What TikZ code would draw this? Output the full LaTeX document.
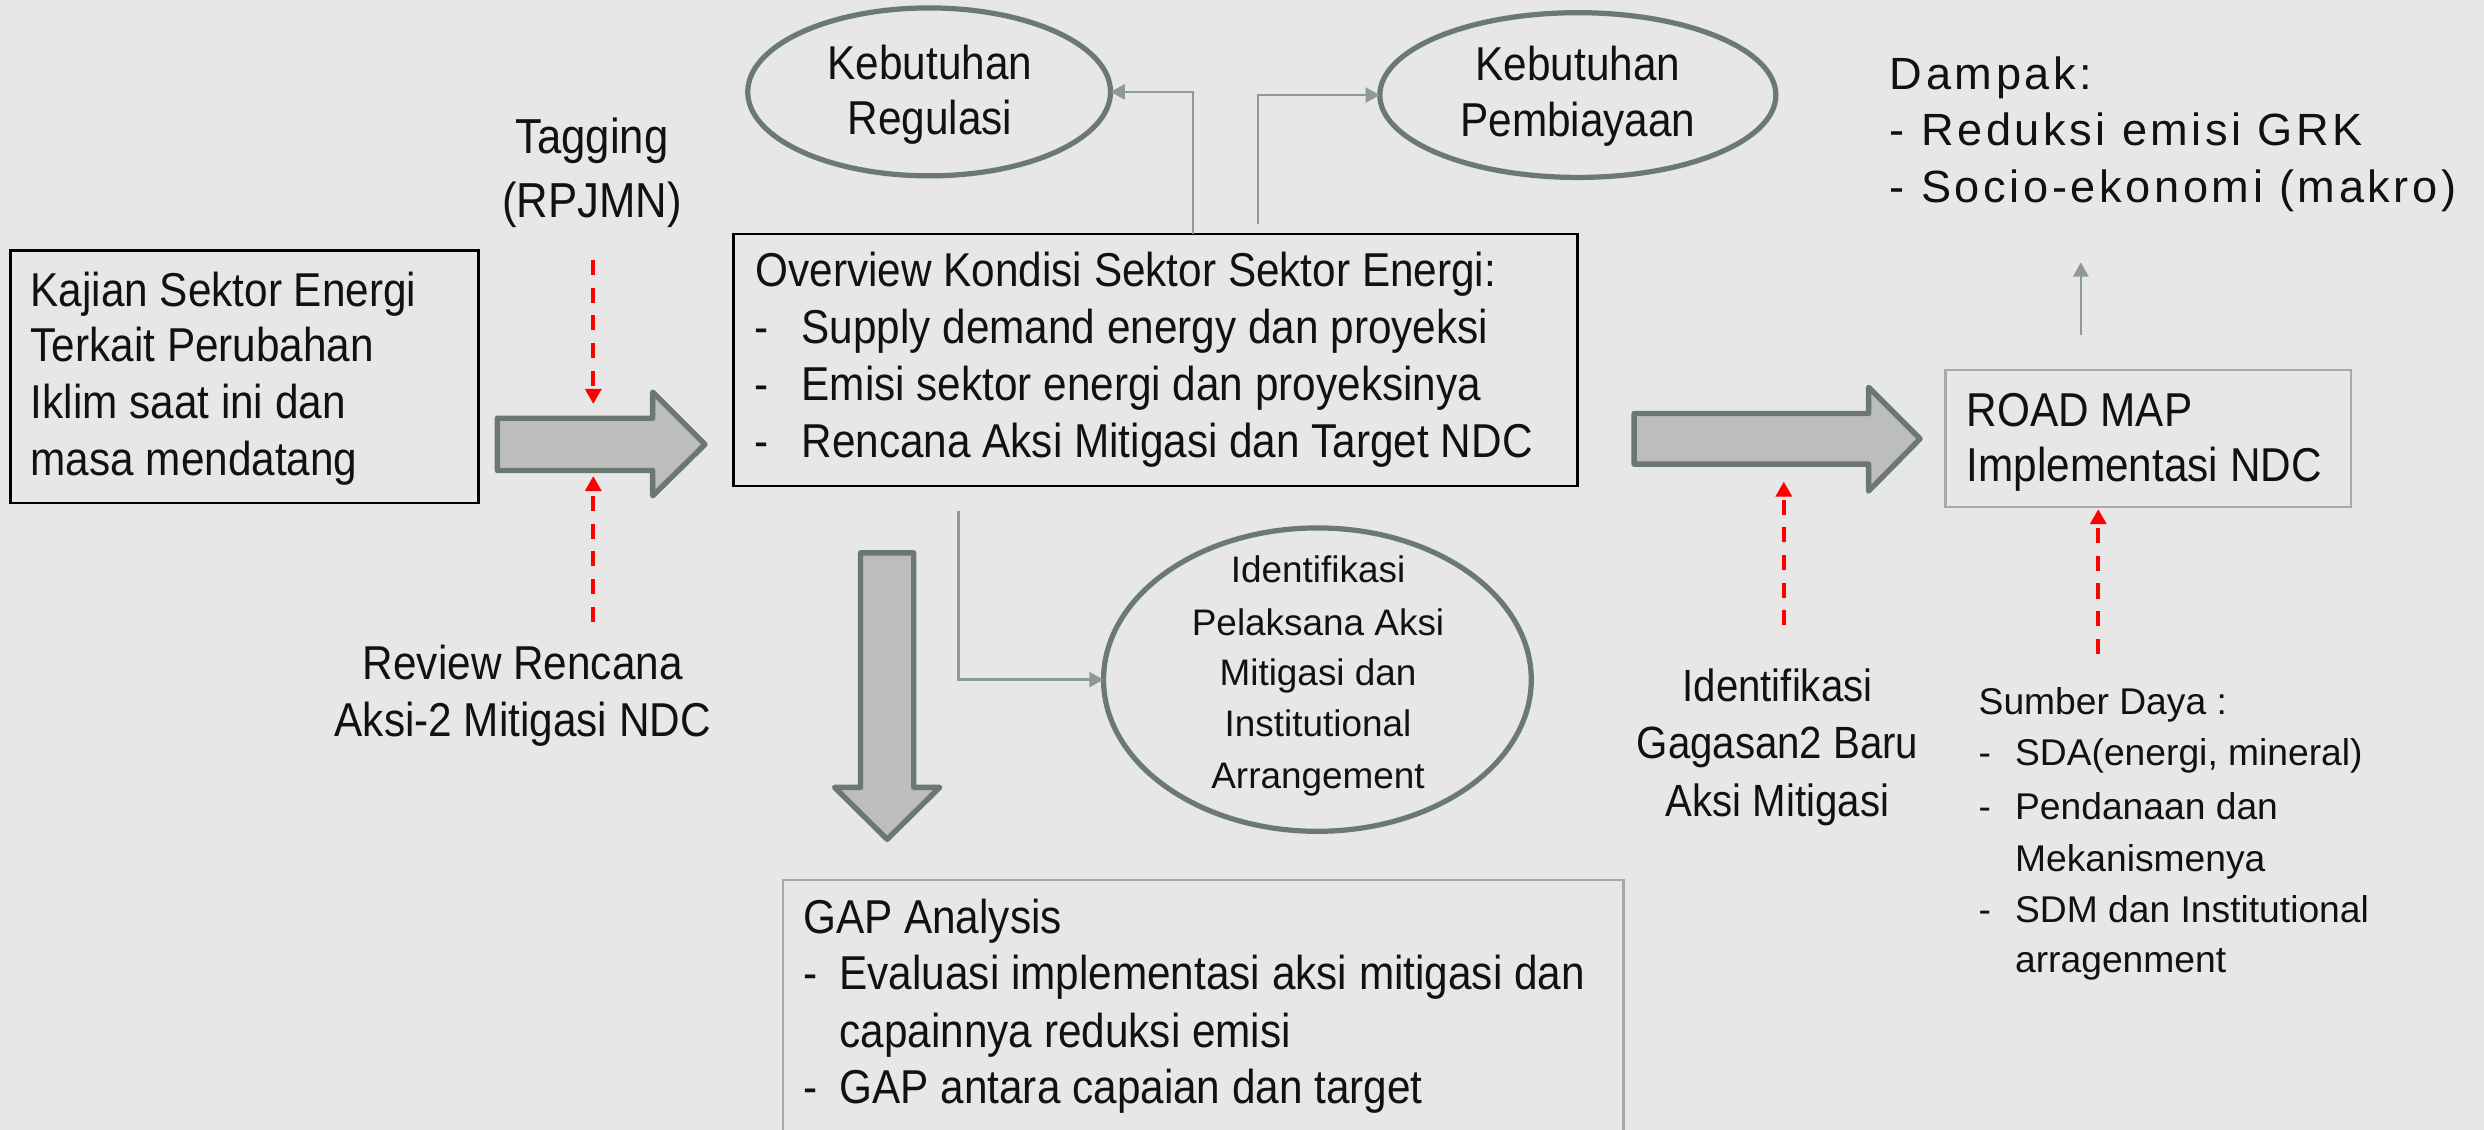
\documentclass[tikz,border=0pt]{standalone}
\usepackage{fontspec}
\setmainfont{Liberation Sans}
\newfontfamily\cn[FakeStretch=0.89]{Liberation Sans}
\newfontfamily\lsp[LetterSpace=8]{Liberation Sans}
\usetikzlibrary{arrows.meta,calc,shapes.geometric}
\definecolor{bgc}{HTML}{E7E7E7}
\definecolor{arrfill}{HTML}{BDBDBD}
\definecolor{arrdraw}{HTML}{6A7870}
\definecolor{ellc}{HTML}{6B7A70}
\definecolor{connc}{HTML}{8D9B93}
\definecolor{lightbox}{HTML}{A9A9A9}
\definecolor{txtc}{HTML}{111111}
\begin{document}
\begin{tikzpicture}[x=1pt,y=-1pt,
  every node/.style={inner sep=0pt,outer sep=0pt,text=txtc},
  blackbox/.style={draw=black,line width=1.6pt,rectangle,anchor=north west},
  greybox/.style={draw=lightbox,line width=1.5pt,rectangle,anchor=north west},
  ell/.style={ellipse,draw=ellc,line width=3.3pt},
  blk/.style={fill=arrfill,draw=arrdraw,line width=3.4pt,line join=round},
  conn/.style={draw=connc,line width=1.5pt,-{Triangle[length=9pt,width=9.5pt]}},
  reddash/.style={draw=red,line width=2.5pt,dash pattern=on 9.5pt off 8pt,-{Triangle[length=9.5pt,width=10pt]}},
  tl/.style={anchor=base west,font={\cn\fontsize{30}{36}\selectfont}},
  tc/.style={anchor=base,font={\cn\fontsize{30}{36}\selectfont}},
  tsmall/.style={anchor=base,font={\fontsize{23.3}{32}\selectfont}},
  tsumber/.style={anchor=base west,font={\fontsize{23.5}{33}\selectfont}},
  tdamp/.style={anchor=base west,font={\lsp\fontsize{28.5}{37}\selectfont}}]
\fill[bgc] (0,0) rectangle (1568,713);
\useasboundingbox (0,0) rectangle (1568,713);
\clip (0,0) rectangle (1568,713);

% ---------- frames ----------
\node[blackbox,minimum width=295.5pt,minimum height=159.5pt] (kaj) at (6.5,158) {};
\node[blackbox,minimum width=532.6pt,minimum height=159.1pt] (ov) at (463,147.6) {};
\node[greybox,minimum width=530.5pt,minimum height=200pt] (gap) at (494.2,555.5) {};
\node[greybox,minimum width=256pt,minimum height=86.4pt] (rm) at (1228,233.6) {};
\node[ell,minimum width=229pt,minimum height=106pt] (reg) at (586.5,58) {};
\node[ell,minimum width=250pt,minimum height=104pt] (pemb) at (996,60) {};
\node[ell,minimum width=270pt,minimum height=191.5pt] (idc) at (831.6,429) {};

% ---------- block arrows ----------
\draw[blk] (314,264) -- (412,264) -- (412,247.5) -- (445,280.5) -- (412,313) -- (412,297) -- (314,297) -- cycle;
\draw[blk] (1031.5,261) -- (1179.5,261) -- (1179.5,244.5) -- (1212,277) -- (1179.5,310) -- (1179.5,293) -- (1031.5,293) -- cycle;
\draw[blk] (543.2,349) -- (576.8,349) -- (576.8,497) -- (593.2,497) -- (560,529.8) -- (526.8,497) -- (543.2,497) -- cycle;

% ---------- texts ----------
\node[tl] (k1) at (19.4,193.2) {Kajian Sektor Energi};
\node[tl] (k2) at (19.4,228.4) {Terkait Perubahan};
\node[tl] (k3) at (19.4,264.4) {Iklim saat ini dan};
\node[tl] (k4) at (19.4,300) {masa mendatang};

\node[tc,font={\cn\fontsize{31}{40}\selectfont}] (tag1) at (373.6,97) {Tagging};
\node[tc,font={\cn\fontsize{31}{40}\selectfont}] (tag2) at (373.6,137.6) {(RPJMN)};

\node[tc] (rev1) at (330,429) {Review Rencana};
\node[tc] (rev2) at (330,465) {Aksi-2 Mitigasi NDC};

\node[tl] (ov0) at (477,181) {Overview Kondisi Sektor Sektor Energi:};
\node[tl] (ovd1) at (476,216.6) {-};
\node[tl] (ov1) at (506,216.6) {Supply demand energy dan proyeksi};
\node[tl] (ovd2) at (476,253) {-};
\node[tl] (ov2) at (506,253) {Emisi sektor energi dan proyeksinya};
\node[tl] (ovd3) at (476,289) {-};
\node[tl] (ov3) at (506,289) {Rencana Aksi Mitigasi dan Target NDC};

\node[tc] (reg1) at (587,50) {Kebutuhan};
\node[tc] (reg2) at (587,85) {Regulasi};
\node[tc] (pemb1) at (996,51) {Kebutuhan};
\node[tc] (pemb2) at (996,86) {Pembiayaan};

\node[tsmall] (id1) at (832,367.8) {Identifikasi};
\node[tsmall] (id2) at (832,401) {Pelaksana Aksi};
\node[tsmall] (id3) at (832,433) {Mitigasi dan};
\node[tsmall] (id4) at (832,465) {Institutional};
\node[tsmall] (id5) at (832,497.6) {Arrangement};

\node[tl] (gap0) at (507,589) {GAP Analysis};
\node[tl] (gapd1) at (507,624.5) {-};
\node[tl] (gap1) at (530,624.5) {Evaluasi implementasi aksi mitigasi dan};
\node[tl] (gap2) at (530,661) {capainnya reduksi emisi};
\node[tl] (gapd3) at (507,696.7) {-};
\node[tl] (gap3) at (530,696.7) {GAP antara capaian dan target};

\node[tc,font={\cn\fontsize{28.5}{36}\selectfont}] (gg1) at (1122,443) {Identifikasi};
\node[tc,font={\cn\fontsize{28.5}{36}\selectfont}] (gg2) at (1122,479) {Gagasan2 Baru};
\node[tc,font={\cn\fontsize{28.5}{36}\selectfont}] (gg3) at (1122,515.5) {Aksi Mitigasi};

\node[tl] (rm1) at (1241.5,269) {ROAD MAP};
\node[tl] (rm2) at (1241.5,304) {Implementasi NDC};

\node[tdamp] (dp0) at (1193,56.5) {Dampak:};
\node[tdamp] (dp1) at (1193,92) {- Reduksi emisi GRK};
\node[tdamp] (dp2) at (1193,128) {- Socio-ekonomi (makro)};

\node[tsumber] (sd0) at (1249,451) {Sumber Daya :};
\node[tsumber] (sdd1) at (1249,483) {-};
\node[tsumber] (sd1) at (1272,483) {SDA(energi, mineral)};
\node[tsumber] (sdd2) at (1249,517.6) {-};
\node[tsumber] (sd2) at (1272,517.6) {Pendanaan dan};
\node[tsumber] (sd3) at (1272,550) {Mekanismenya};
\node[tsumber] (sdd4) at (1249,582) {-};
\node[tsumber] (sd4) at (1272,582) {SDM dan Institutional};
\node[tsumber] (sd5) at (1272,614) {arragenment};

% ---------- thin connectors ----------
\draw[conn] ($(ov.north west)+(290,0)$) |- (reg.east);
\draw[conn] ($(ov.north west)+(331,-6)$) |- (pemb.west);
\draw[conn] ($(ov.south west)+(142,16)$) |- (idc.west);
\coordinate (upS) at ($(rm.north west)+(85.5,-22)$);
\coordinate (upE) at ($(rm.north west)+(85.5,-68)$);
\draw[conn] (upS) -- (upE);

% ---------- red dashed arrows ----------
\coordinate (r1s) at (374.5,164);  \coordinate (r1e) at (374.5,255);
\coordinate (r2s) at (374.5,392.5);  \coordinate (r2e) at (374.5,300.5);
\coordinate (r3s) at (1126,394.8); \coordinate (r3e) at (1126,304);
\coordinate (r4s) at (1324.5,412.8); \coordinate (r4e) at (1324.5,321.4);
\draw[reddash] (r1s) -- (r1e);
\draw[reddash] (r2s) -- (r2e);
\draw[reddash] (r3s) -- (r3e);
\draw[reddash] (r4s) -- (r4e);
\end{tikzpicture}
\end{document}
